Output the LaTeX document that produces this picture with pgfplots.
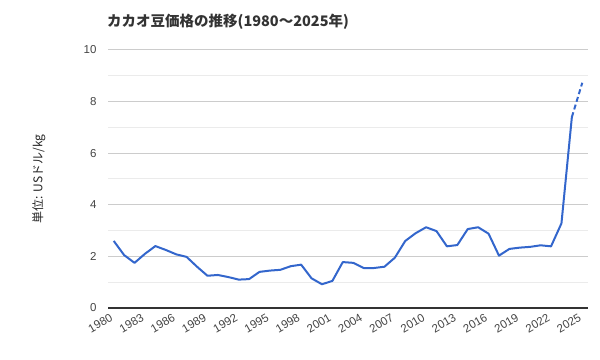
\documentclass[border=0pt]{standalone}
\usepackage{pgfplots}
\pgfplotsset{compat=1.18}
\usepackage{fontspec}
\setmainfont{Liberation Sans}
\newfontfamily\jp{Noto Sans CJK JP}
\definecolor{gblue}{HTML}{3366CC}
\definecolor{majgrid}{HTML}{CCCCCC}
\definecolor{mingrid}{HTML}{EBEBEB}
\definecolor{txt}{HTML}{444444}
\begin{document}
\begin{tikzpicture}
\path[use as bounding box] (0,0) rectangle (600bp,360bp);
\node[anchor=west,font=\jp\bfseries\fontsize{14.5bp}{16bp}\selectfont,text=black!80,inner sep=0pt] at (107bp,338bp) {カカオ豆価格の推移(1980～2025年)};
\begin{axis}[
  at={(108bp,52bp)}, anchor=south west,
  scale only axis, width=480bp, height=258bp,
  xmin=1979.45, xmax=2025.55, ymin=0, ymax=10,
  axis line style={draw=none},
  ytick={0,2,4,6,8,10},
  minor ytick={1,3,5,7,9},
  xtick={1980,1983,...,2025},
  ymajorgrids, yminorgrids,
  major grid style={majgrid, line width=1bp},
  minor grid style={mingrid, line width=1bp},
  major tick length=0pt, minor tick length=0pt,
  tick style={draw=none},
  /pgf/number format/assume math mode=true,
  /pgf/number format/1000 sep={},
  ticklabel style={font=\fontsize{11.5bp}{13bp}\selectfont, text=txt},
  yticklabel style={xshift=-8bp},
  xticklabel style={rotate=30, anchor=east, xshift=-3bp, yshift=-6.6bp},
  ylabel={\jp 単位: USドル/kg},
  ylabel style={font=\fontsize{12bp}{14bp}\selectfont, text=black!85, at={(-59bp,0.5)}, anchor=south},
  clip=false,
]
\draw[black!80, line width=1.2bp] (axis cs:1979.45,0) -- (axis cs:2025.55,0);
\addplot[gblue, line width=2bp, line join=round] coordinates {
(1980,2.60) (1981,2.05) (1982,1.75) (1983,2.10) (1984,2.40) (1985,2.25)
(1986,2.08) (1987,1.98) (1988,1.60) (1989,1.25) (1990,1.28) (1991,1.20)
(1992,1.10) (1993,1.12) (1994,1.40) (1995,1.45) (1996,1.48) (1997,1.62)
(1998,1.68) (1999,1.15) (2000,0.92) (2001,1.05) (2002,1.78) (2003,1.75)
(2004,1.55) (2005,1.55) (2006,1.60) (2007,1.95) (2008,2.60) (2009,2.90)
(2010,3.13) (2011,2.98) (2012,2.39) (2013,2.44) (2014,3.06) (2015,3.13)
(2016,2.88) (2017,2.03) (2018,2.29) (2019,2.34) (2020,2.37) (2021,2.43)
(2022,2.39) (2023,3.28) (2024,7.40)
};
\addplot[gblue, line width=2bp, dash pattern=on 5bp off 3bp] coordinates {
(2024,7.40) (2025,8.73)
};
\end{axis}
\end{tikzpicture}
\end{document}
